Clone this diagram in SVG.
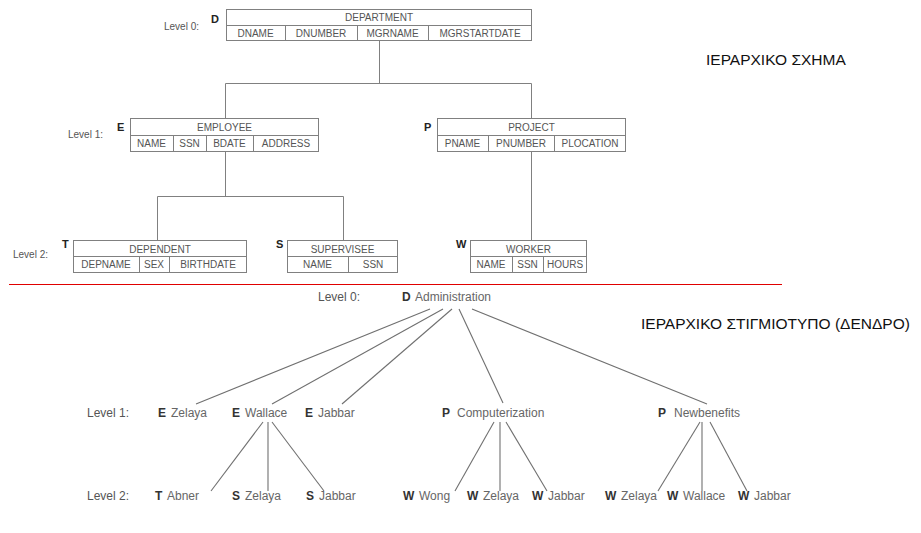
<svg xmlns="http://www.w3.org/2000/svg" width="921" height="533" viewBox="0 0 921 533">
<style>
  .bg { fill: #ffffff; }
  .box { fill: #ffffff; stroke: #808080; stroke-width: 1; }
  .sep { stroke: #808080; stroke-width: 1; }
  .cell { font-family: "Liberation Sans", Arial, sans-serif; font-size: 10px; fill: #555555; text-anchor: middle; }
  .tag { font-family: "Liberation Sans", Arial, sans-serif; font-size: 11px; font-weight: bold; fill: #222222; }
  .lvl { font-family: "Liberation Sans", Arial, sans-serif; font-size: 10px; fill: #555555; }
  .lvl2 { font-family: "Liberation Sans", Arial, sans-serif; font-size: 12px; fill: #555555; }
  .name { font-family: "Liberation Sans", Arial, sans-serif; font-size: 12px; fill: #666666; }
  .ltag { font-family: "Liberation Sans", Arial, sans-serif; font-size: 12px; font-weight: bold; fill: #333333; }
  .title { font-family: "Liberation Sans", "DejaVu Sans", Arial, sans-serif; font-size: 15.5px; fill: #111111; }
  .conn { stroke: #808080; stroke-width: 1; fill: none; }
  .tree { stroke: #707070; stroke-width: 1.1; fill: none; }
  .divider { stroke: #e00000; stroke-width: 1.2; }
</style>
<rect class="bg" x="0" y="0" width="921" height="533"/>

<!-- connectors -->
<g id="connectors">
  <polyline class="conn" points="379.5,40 379.5,83.5"/>
  <polyline class="conn" points="225.5,118 225.5,83.5 531.5,83.5 531.5,118"/>
  <polyline class="conn" points="225.5,151 225.5,196.5"/>
  <polyline class="conn" points="157.5,240 157.5,196.5 343.5,196.5 343.5,240"/>
  <polyline class="conn" points="531.5,151 531.5,240"/>

  <line class="tree" x1="430" y1="309" x2="196" y2="404"/>
  <line class="tree" x1="443" y1="309" x2="272" y2="404"/>
  <line class="tree" x1="452" y1="309" x2="342" y2="404"/>
  <line class="tree" x1="459" y1="309" x2="503" y2="403"/>
  <line class="tree" x1="472" y1="309" x2="707" y2="404"/>

  <line class="tree" x1="263" y1="422" x2="211" y2="491"/>
  <line class="tree" x1="268" y1="422" x2="268" y2="491"/>
  <line class="tree" x1="272" y1="422" x2="324" y2="491"/>

  <line class="tree" x1="494" y1="422" x2="455" y2="491"/>
  <line class="tree" x1="500" y1="422" x2="500" y2="491"/>
  <line class="tree" x1="506" y1="422" x2="547" y2="491"/>

  <line class="tree" x1="700" y1="422" x2="658" y2="491"/>
  <line class="tree" x1="702" y1="422" x2="702" y2="491"/>
  <line class="tree" x1="710" y1="422" x2="747" y2="491"/>
</g>

<!-- schema labels -->
<g id="schema-levels">
  <text class="lvl" x="164" y="30">Level 0:</text>
  <text class="lvl" x="68" y="138">Level 1:</text>
  <text class="lvl" x="13" y="258">Level 2:</text>
</g>

<g id="department">
  <text class="tag" x="211" y="23">D</text>
  <rect class="box" x="226.5" y="9.5" width="305" height="31"/>
  <line class="sep" x1="226.5" y1="25.5" x2="531.5" y2="25.5"/>
  <line class="sep" x1="285.5" y1="25.5" x2="285.5" y2="40.5"/>
  <line class="sep" x1="357.5" y1="25.5" x2="357.5" y2="40.5"/>
  <line class="sep" x1="428.5" y1="25.5" x2="428.5" y2="40.5"/>
  <text class="cell" x="379" y="21">DEPARTMENT</text>
  <text class="cell" x="255.5" y="37">DNAME</text>
  <text class="cell" x="321" y="37">DNUMBER</text>
  <text class="cell" x="392.5" y="37">MGRNAME</text>
  <text class="cell" x="480" y="37">MGRSTARTDATE</text>
</g>

<g id="employee">
  <text class="tag" x="117" y="131">E</text>
  <rect class="box" x="130.5" y="118.5" width="188" height="33"/>
  <line class="sep" x1="130.5" y1="135.5" x2="318.5" y2="135.5"/>
  <line class="sep" x1="173.5" y1="135.5" x2="173.5" y2="151.5"/>
  <line class="sep" x1="206.5" y1="135.5" x2="206.5" y2="151.5"/>
  <line class="sep" x1="253.5" y1="135.5" x2="253.5" y2="151.5"/>
  <text class="cell" x="224.5" y="131">EMPLOYEE</text>
  <text class="cell" x="151.5" y="147">NAME</text>
  <text class="cell" x="189.5" y="147">SSN</text>
  <text class="cell" x="229.5" y="147">BDATE</text>
  <text class="cell" x="286" y="147">ADDRESS</text>
</g>

<g id="project">
  <text class="tag" x="424" y="131">P</text>
  <rect class="box" x="437.5" y="118.5" width="188" height="33"/>
  <line class="sep" x1="437.5" y1="135.5" x2="625.5" y2="135.5"/>
  <line class="sep" x1="488.5" y1="135.5" x2="488.5" y2="151.5"/>
  <line class="sep" x1="554.5" y1="135.5" x2="554.5" y2="151.5"/>
  <text class="cell" x="531.5" y="131">PROJECT</text>
  <text class="cell" x="462.5" y="147">PNAME</text>
  <text class="cell" x="521" y="147">PNUMBER</text>
  <text class="cell" x="590" y="147">PLOCATION</text>
</g>

<g id="dependent">
  <text class="tag" x="62" y="248">T</text>
  <rect class="box" x="73.5" y="240.5" width="173" height="32"/>
  <line class="sep" x1="73.5" y1="256.5" x2="246.5" y2="256.5"/>
  <line class="sep" x1="139.5" y1="256.5" x2="139.5" y2="272.5"/>
  <line class="sep" x1="169.5" y1="256.5" x2="169.5" y2="272.5"/>
  <text class="cell" x="160" y="253">DEPENDENT</text>
  <text class="cell" x="106" y="268">DEPNAME</text>
  <text class="cell" x="154" y="268">SEX</text>
  <text class="cell" x="208" y="268">BIRTHDATE</text>
</g>

<g id="supervisee">
  <text class="tag" x="276" y="248">S</text>
  <rect class="box" x="287.5" y="240.5" width="110" height="32"/>
  <line class="sep" x1="287.5" y1="256.5" x2="397.5" y2="256.5"/>
  <line class="sep" x1="348.5" y1="256.5" x2="348.5" y2="272.5"/>
  <text class="cell" x="342.5" y="253">SUPERVISEE</text>
  <text class="cell" x="317.5" y="268">NAME</text>
  <text class="cell" x="373" y="268">SSN</text>
</g>

<g id="worker">
  <text class="tag" x="456" y="248">W</text>
  <rect class="box" x="470.5" y="240.5" width="116" height="32"/>
  <line class="sep" x1="470.5" y1="256.5" x2="586.5" y2="256.5"/>
  <line class="sep" x1="512.5" y1="256.5" x2="512.5" y2="272.5"/>
  <line class="sep" x1="543.5" y1="256.5" x2="543.5" y2="272.5"/>
  <text class="cell" x="528.5" y="253">WORKER</text>
  <text class="cell" x="491" y="268">NAME</text>
  <text class="cell" x="527.5" y="268">SSN</text>
  <text class="cell" x="565" y="268">HOURS</text>
</g>

<g id="titles">
  <text class="title" x="706" y="65">ΙΕΡΑΡΧΙΚΟ ΣΧΗΜΑ</text>
  <text class="title" x="641" y="329">ΙΕΡΑΡΧΙΚΟ ΣΤΙΓΜΙΟΤΥΠΟ (ΔΕΝΔΡΟ)</text>
</g>

<line class="divider" x1="9" y1="284.5" x2="782" y2="284.5"/>

<!-- occurrence tree -->
<g id="tree-levels">
  <text class="lvl2" x="318" y="301">Level 0:</text>
  <text class="lvl2" x="87" y="417">Level 1:</text>
  <text class="lvl2" x="87" y="500">Level 2:</text>
</g>

<g id="t-administration"><text class="ltag" x="402" y="301">D</text><text class="name" x="415" y="301">Administration</text></g>

<g id="t-e-zelaya"><text class="ltag" x="158" y="417">E</text><text class="name" x="171" y="417">Zelaya</text></g>
<g id="t-e-wallace"><text class="ltag" x="232" y="417">E</text><text class="name" x="245" y="417">Wallace</text></g>
<g id="t-e-jabbar"><text class="ltag" x="305" y="417">E</text><text class="name" x="318" y="417">Jabbar</text></g>
<g id="t-p-computerization"><text class="ltag" x="442" y="417">P</text><text class="name" x="457" y="417">Computerization</text></g>
<g id="t-p-newbenefits"><text class="ltag" x="658" y="417">P</text><text class="name" x="674" y="417">Newbenefits</text></g>

<g id="t-t-abner"><text class="ltag" x="155" y="500">T</text><text class="name" x="167" y="500">Abner</text></g>
<g id="t-s-zelaya"><text class="ltag" x="232" y="500">S</text><text class="name" x="245" y="500">Zelaya</text></g>
<g id="t-s-jabbar"><text class="ltag" x="306" y="500">S</text><text class="name" x="319" y="500">Jabbar</text></g>
<g id="t-w-wong"><text class="ltag" x="403" y="500">W</text><text class="name" x="419" y="500">Wong</text></g>
<g id="t-w-zelaya1"><text class="ltag" x="467" y="500">W</text><text class="name" x="483" y="500">Zelaya</text></g>
<g id="t-w-jabbar1"><text class="ltag" x="532" y="500">W</text><text class="name" x="548" y="500">Jabbar</text></g>
<g id="t-w-zelaya2"><text class="ltag" x="605" y="500">W</text><text class="name" x="621" y="500">Zelaya</text></g>
<g id="t-w-wallace"><text class="ltag" x="667" y="500">W</text><text class="name" x="683" y="500">Wallace</text></g>
<g id="t-w-jabbar2"><text class="ltag" x="738" y="500">W</text><text class="name" x="754" y="500">Jabbar</text></g>
</svg>
